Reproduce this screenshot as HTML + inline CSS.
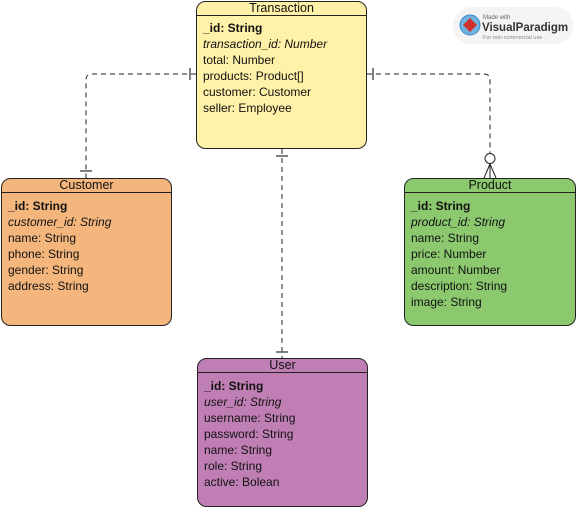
<!DOCTYPE html>
<html><head><meta charset="utf-8"><style>
html,body{margin:0;padding:0;background:#fff;width:576px;height:508px;overflow:hidden}
svg{display:block}
text{font-family:"Liberation Sans",Arial,sans-serif;font-size:12px;fill:#111}
.t{font-size:12.5px;text-anchor:middle}
.b{font-weight:bold}
.i{font-style:italic}
</style></head><body>
<svg width="576" height="508" viewBox="0 0 576 508">
<!-- connectors -->
<g fill="none" stroke="#222" stroke-width="1" stroke-dasharray="5,4">
<path d="M196 74 H92 Q86 74 86 80 V178"/>
<path d="M367 74 H484 Q490 74 490 80 V153"/>
<path d="M282 149 V358"/>
</g>
<g stroke="#555" stroke-width="1.5">
<line x1="190" y1="68" x2="190" y2="80"/>
<line x1="373" y1="68" x2="373" y2="80"/>
<line x1="80" y1="171" x2="92" y2="171"/>
<line x1="276" y1="156" x2="288" y2="156"/>
<line x1="276" y1="352" x2="288" y2="352"/>
</g>
<circle cx="490" cy="158.5" r="5" fill="#fff" stroke="#222"/>
<path d="M490 164 L484 178 M490 164 L490 178 M490 164 L496 178" stroke="#222" fill="none"/>

<!-- Transaction -->
<rect x="196.5" y="1.5" width="170" height="147" rx="9" fill="#fff1a8" stroke="#222"/>
<line x1="196.5" y1="15.5" x2="366.5" y2="15.5" stroke="#222"/>
<text class="t" x="281.5" y="12">Transaction</text>
<text class="b" x="203" y="32">_id: String</text>
<text class="i" x="203" y="48">transaction_id: Number</text>
<text x="203" y="64">total: Number</text>
<text x="203" y="80">products: Product[]</text>
<text x="203" y="96">customer: Customer</text>
<text x="203" y="112">seller: Employee</text>

<!-- Customer -->
<rect x="1.5" y="178.5" width="170" height="147" rx="9" fill="#f4b67c" stroke="#222"/>
<line x1="1.5" y1="192.5" x2="171.5" y2="192.5" stroke="#222"/>
<text class="t" x="86.5" y="189">Customer</text>
<text class="b" x="8" y="210">_id: String</text>
<text class="i" x="8" y="226">customer_id: String</text>
<text x="8" y="242">name: String</text>
<text x="8" y="258">phone: String</text>
<text x="8" y="274">gender: String</text>
<text x="8" y="290">address: String</text>

<!-- Product -->
<rect x="404.5" y="178.5" width="171" height="147" rx="9" fill="#8cc96e" stroke="#222"/>
<line x1="404.5" y1="192.5" x2="575.5" y2="192.5" stroke="#222"/>
<text class="t" x="490" y="189">Product</text>
<text class="b" x="411" y="210">_id: String</text>
<text class="i" x="411" y="226">product_id: String</text>
<text x="411" y="242">name: String</text>
<text x="411" y="258">price: Number</text>
<text x="411" y="274">amount: Number</text>
<text x="411" y="290">description: String</text>
<text x="411" y="306">image: String</text>

<!-- User -->
<rect x="197.5" y="358.5" width="170" height="148" rx="9" fill="#c07fb4" stroke="#222"/>
<line x1="197.5" y1="372.5" x2="367.5" y2="372.5" stroke="#222"/>
<text class="t" x="282.5" y="369">User</text>
<text class="b" x="204" y="390">_id: String</text>
<text class="i" x="204" y="406">user_id: String</text>
<text x="204" y="422">username: String</text>
<text x="204" y="438">password: String</text>
<text x="204" y="454">name: String</text>
<text x="204" y="470">role: String</text>
<text x="204" y="486">active: Bolean</text>

<!-- badge -->
<rect x="453" y="7" width="120" height="37" rx="18" fill="#f4f4f4"/>
<circle cx="470" cy="25" r="10" fill="#6fb4e0" stroke="#3b86c4"/>
<path d="M470 18 L477 25 L470 32 L463 25 Z" fill="#d0312d"/>
<text x="483" y="19" style="font-size:6px;fill:#666">Made with</text>
<text x="482" y="31" style="font-size:11.5px;font-weight:bold;fill:#333">VisualParadigm</text>
<text x="483" y="39" style="font-size:5.5px;fill:#888">For non-commercial use</text>
</svg>
</body></html>
